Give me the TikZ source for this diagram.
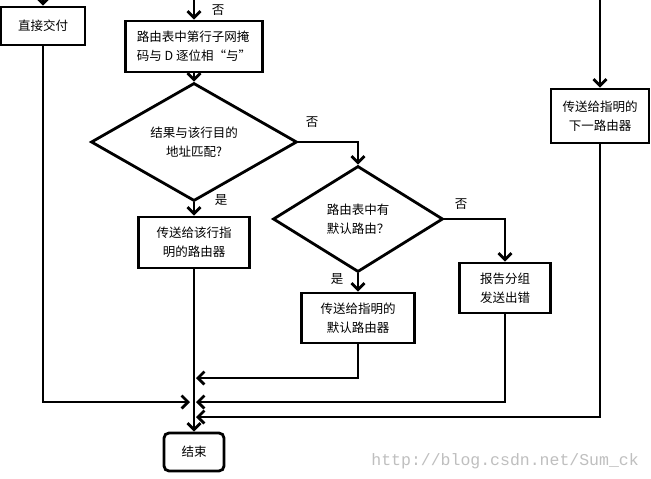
\documentclass[tikz,border=0pt]{standalone}
\usepackage{fontspec}
\setmainfont{Noto Sans CJK SC}
\newfontfamily\wmfont{Liberation Mono}
\usetikzlibrary{arrows.meta,shapes.geometric}
\begin{document}
\begin{tikzpicture}[x=1pt,y=-1pt,
  line width=2.8pt,
  every node/.style={font=\fontsize{12.5}{19}\selectfont, inner sep=0pt},
  box/.style={draw, rectangle, align=center},
  dbox/.style={draw, diamond, align=center},
  endbox/.style={draw, rectangle, rounded corners=5pt, align=center},
  lbl/.style={font=\fontsize{12.5}{14}\selectfont},
  arr/.style={-{Straight Barb[length=6.5pt,width=13pt]}, line join=miter}
]
\useasboundingbox (0,0) rectangle (651,479);
\fill[white] (0,0) rectangle (651,479);

% nodes
\node[box, minimum width=84pt, minimum height=38pt] (direct) at (43,26) {直接交付};
\node[box, minimum width=137pt, minimum height=51pt, align=left] (mask) at (194,46.5) {路由表中第行子网掩\\码与 D 逐位相“与”};
\node[dbox, minimum width=206pt, minimum height=108pt] (d1) at (194,142) {结果与该行目的\\地址匹配?};
\node[dbox, minimum width=170pt, minimum height=106pt, align=left] (d2) at (358,219) {路由表中有\\默认路由？};
\node[box, minimum width=111pt, minimum height=51pt] (b3) at (194,242.5) {传送给该行指\\明的路由器};
\node[box, minimum width=113pt, minimum height=50pt] (b5) at (358,318) {传送给指明的\\默认路由器};
\node[box, minimum width=91pt, minimum height=50pt] (b6) at (505,288) {报告分组\\发送出错};
\node[box, minimum width=98pt, minimum height=54pt] (b7) at (600,116) {传送给指明的\\下一路由器};
\node[endbox, minimum width=60pt, minimum height=38pt] (end) at (194,452) {结束};

% labels
\node[lbl] (l1) at (218,10) {否};
\node[lbl] (l2) at (312,122) {否};
\node[lbl] (l3) at (221,200) {是};
\node[lbl] (l4) at (461,204) {否};
\node[lbl] (l5) at (337,279) {是};

% free ends
\coordinate (t1) at (43,0);
\coordinate (t2) at (194,0);
\coordinate (t3) at (600,0);
\coordinate (j1) at (196,378);
\coordinate (j2) at (190,402);
\coordinate (j3) at (196,402);
\coordinate (j4) at (196,417);

% connectors
\draw[arr] (t1) -- (direct.north);
\draw[arr] (t2) -- (mask.north);
\draw[arr] (t3) -- (b7.north);
\draw[arr] (mask.south) -- (d1.north);
\draw[arr] (d1.east) -| (d2.north);
\draw[arr] (d1.south) -- (b3.north);
\draw[arr] (d2.east) -| (b6.north);
\draw[arr] (d2.south) -- (b5.north);
\draw[arr] (b3.south) -- (end.north);
\draw[arr] (b5.south) |- (j1);
\draw[arr] (direct.south) |- (j2);
\draw[arr] (b6.south) |- (j3);
\draw[arr] (b7.south) |- (j4);

% watermark
\node[anchor=west, font=\wmfont\fontsize{16.5}{18}\selectfont, text=black!25] (wm) at (370,461) {http://blog.csdn.net/Sum\_ck};
\end{tikzpicture}
\end{document}
